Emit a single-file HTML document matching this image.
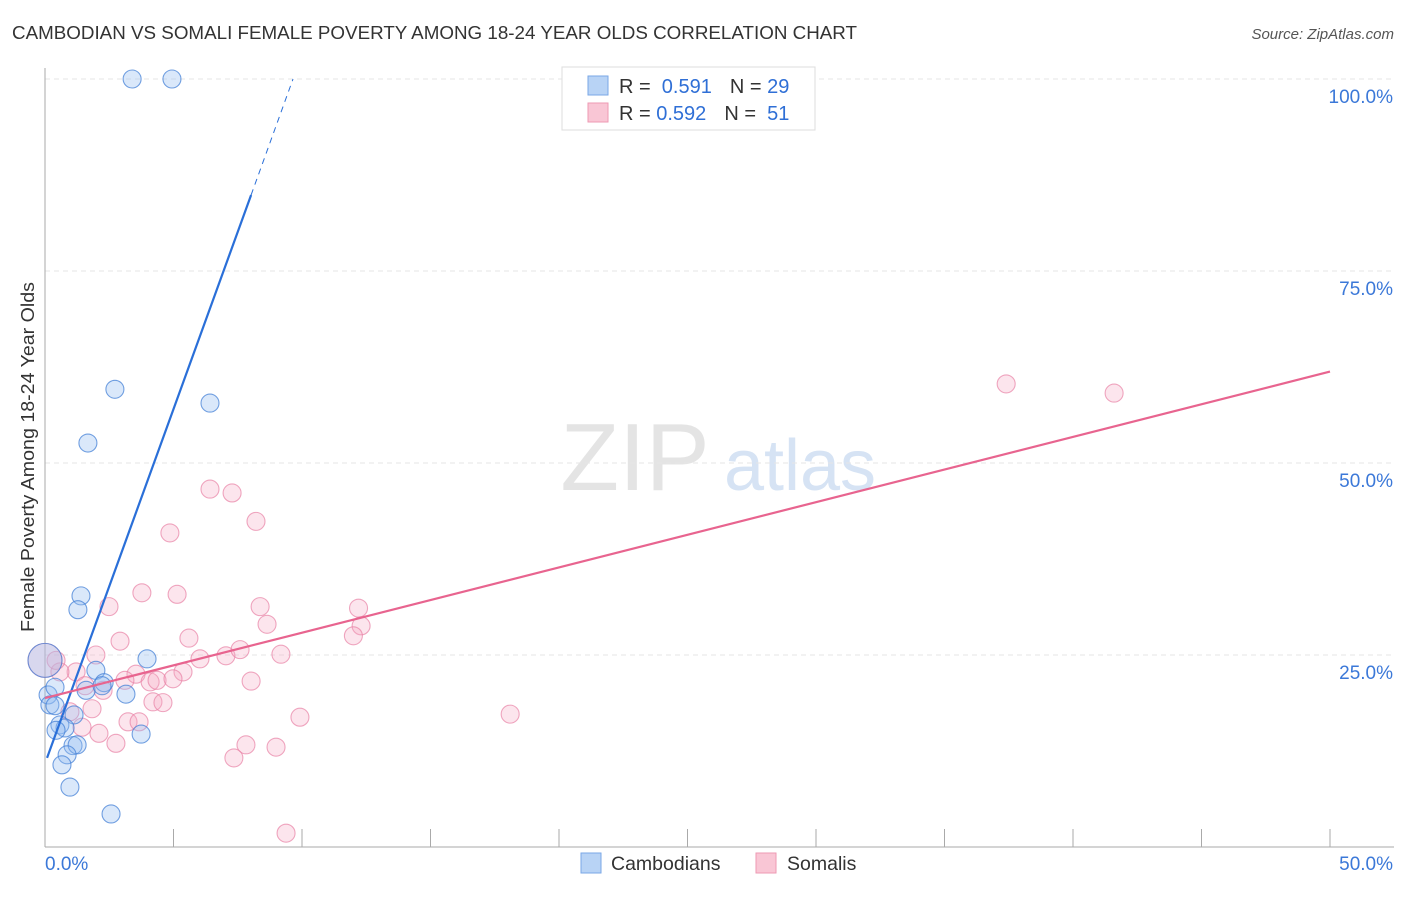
<!DOCTYPE html>
<html><head><meta charset="utf-8">
<style>
body{margin:0;background:#fff;font-family:"Liberation Sans",sans-serif;}
svg text{font-family:"Liberation Sans",sans-serif;}
</style></head>
<body>
<svg id="chart" width="1406" height="892" viewBox="0 0 1406 892" xmlns="http://www.w3.org/2000/svg">
<text x="12" y="39" font-size="18" fill="#333" textLength="845" lengthAdjust="spacingAndGlyphs">CAMBODIAN VS SOMALI FEMALE POVERTY AMONG 18-24 YEAR OLDS CORRELATION CHART</text>
<text x="1394" y="39" font-size="15" fill="#555" font-style="italic" text-anchor="end">Source: ZipAtlas.com</text>
<text x="0" y="0" font-size="18" fill="#333" text-anchor="middle" textLength="350" lengthAdjust="spacingAndGlyphs" transform="translate(34,457) rotate(-90)">Female Poverty Among 18-24 Year Olds</text>
<g>
<text x="635" y="490" font-size="96" fill="#e4e4e4" font-family="Liberation Serif" text-anchor="middle">ZIP</text>
<text x="800" y="490" font-size="72" fill="#d6e3f4" text-anchor="middle">atlas</text>
</g>
<g id="grid"></g><g id="axes"></g><g id="pts"></g><g id="lines"></g>
<g>
<rect x="562" y="67" width="253" height="63" fill="#fff" stroke="#ddd"/>
<rect x="588" y="76" width="20" height="19" fill="#b8d3f5" stroke="#7aa7e6"/>
<rect x="588" y="103" width="20" height="19" fill="#f9c6d5" stroke="#ee9ab3"/>
<text x="619" y="93" font-size="20" fill="#333">R = <tspan fill="#2f6fd6">&#160;0.591</tspan><tspan dx="18">N = </tspan><tspan fill="#2f6fd6">29</tspan></text>
<text x="619" y="120" font-size="20" fill="#333">R = <tspan fill="#2f6fd6">0.592</tspan><tspan dx="18">N = </tspan><tspan fill="#2f6fd6">&#160;51</tspan></text>
</g>
<g>
<rect x="581" y="853" width="20" height="20" fill="#b8d3f5" stroke="#7aa7e6"/>
<text x="611" y="870" font-size="19.5" fill="#333">Cambodians</text>
<rect x="756" y="853" width="20" height="20" fill="#f9c6d5" stroke="#ee9ab3"/>
<text x="787" y="870" font-size="19.5" fill="#333">Somalis</text>
</g>
</svg>
<script>
const blueX=[3.39,4.94,2.72,6.42,1.67,1.40,1.28,3.97,1.98,2.30,3.15,1.60,0.12,0.39,0.19,0.39,1.13,0.58,0.78,0.43,1.09,1.25,0.86,0.66,0.97,2.57,3.74,2.22,0];
const blueY=[100,100,59.6,57.8,52.6,32.7,30.9,24.5,23.0,21.4,19.9,20.4,19.8,20.8,18.5,18.4,17.2,15.9,15.5,15.2,13.2,13.3,12.0,10.7,7.8,4.3,14.7,21.0,24.3];
const pinkX=[37.4,41.6,6.42,7.28,4.86,8.21,3.77,5.14,2.49,8.37,12.2,8.64,12.3,12.0,2.92,5.60,1.98,9.18,6.03,7.04,7.59,3.54,5.37,1.21,3.11,4.09,4.36,4.98,1.56,2.26,8.02,4.20,4.59,1.83,0.97,3.23,3.66,9.92,18.1,1.44,2.10,2.76,7.82,8.99,7.35,9.38,0.58,0.43,0];
const pinkY=[60.3,59.1,46.6,46.1,40.9,42.4,33.1,32.9,31.3,31.3,31.1,29.0,28.8,27.5,26.8,27.2,25.0,25.1,24.5,24.9,25.7,22.5,22.8,22.8,21.7,21.5,21.7,21.9,21.0,20.4,21.6,18.9,18.8,18.0,17.6,16.3,16.3,16.9,17.3,15.6,14.8,13.5,13.3,13.0,11.6,1.8,22.8,24.3,24.3];
const bigBlue=[28], bigPink=[48];
const blueLine=[[0.08,11.6],[8.02,84.9]], blueDash=[[8.02,84.9],[9.65,100]];
const pinkLine=[[0,19.4],[50,61.9]];
const yTicks=[25,50,75,100], yTickLabels=["25.0%","50.0%","75.0%","100.0%"];
const xTicks=[0,5,10,15,20,25,30,35,40,45,50];
const NS="http://www.w3.org/2000/svg";
const sx=v=>45+v*25.7, sy=v=>847-v*7.68;
function mk(tag,parent,attrs){const e=document.createElementNS(NS,tag);for(const k in attrs)e.setAttribute(k,attrs[k]);document.getElementById(parent).appendChild(e);return e;}
yTicks.forEach((t,i)=>{
 const g=mk('line','grid',{x1:45,x2:1394,y1:sy(t),y2:sy(t),stroke:'#e6e6e6','stroke-dasharray':'5,4'});
 
 
 const l=mk('text','axes',{x:1393,y:sy(t)+24,'font-size':19,fill:'#3b78d8','text-anchor':'end'});
 l.textContent=yTickLabels[i];
 
 
});
const ax=mk('line','axes',{x1:45,x2:45,y1:68,y2:847,stroke:'#aaa'});


const bx=mk('line','axes',{x1:45,x2:1394,y1:847,y2:847,stroke:'#aaa'});


xTicks.forEach(t=>{const e=mk('line','axes',{x1:sx(t),x2:sx(t),y1:829,y2:847,stroke:'#aaa'});
 
 });
const xl0=mk('text','axes',{x:45,y:870,'font-size':19,fill:'#3b78d8'});xl0.textContent='0.0%';


const xl1=mk('text','axes',{x:1393,y:870,'font-size':19,fill:'#3b78d8','text-anchor':'end'});xl1.textContent='50.0%';


pinkX.forEach((x,i)=>{const c=mk('circle','pts',{cx:sx(x),cy:sy(pinkY[i]),r:bigPink.includes(i)?17:9,fill:'rgba(246,170,195,0.3)',stroke:'rgba(232,130,165,0.7)','stroke-width':1.1});
 
 });
blueX.forEach((x,i)=>{const c=mk('circle','pts',{cx:sx(x),cy:sy(blueY[i]),r:bigBlue.includes(i)?17:9,fill:'rgba(150,190,240,0.35)',stroke:'rgba(70,130,215,0.75)','stroke-width':1.1});
 
 });
const bl=mk('line','lines',{x1:sx(blueLine[0][0]),y1:sy(blueLine[0][1]),x2:sx(blueLine[1][0]),y2:sy(blueLine[1][1]),stroke:'#2a6fd8','stroke-width':2.2});


const bd=mk('line','lines',{x1:sx(blueDash[0][0]),y1:sy(blueDash[0][1]),x2:sx(blueDash[1][0]),y2:sy(blueDash[1][1]),stroke:'#2a6fd8','stroke-width':1,'stroke-dasharray':'6,5'});


const pl=mk('line','lines',{x1:sx(pinkLine[0][0]),y1:sy(pinkLine[0][1]),x2:sx(pinkLine[1][0]),y2:sy(pinkLine[1][1]),stroke:'#e8648f','stroke-width':2.2});


</script>
</body></html>
